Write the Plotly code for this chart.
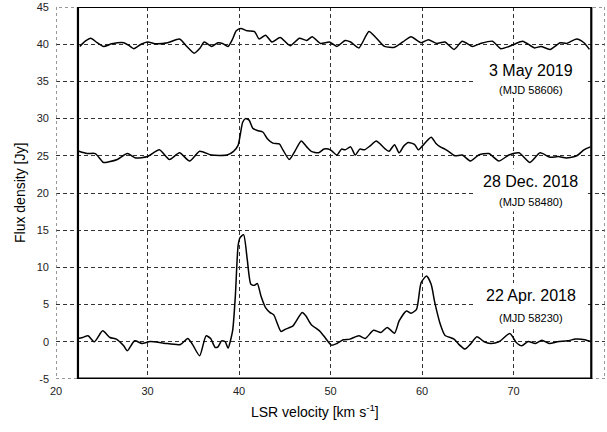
import plotly.graph_objects as go

# ---- data: 22 Apr. 2018 (MJD 58230)
v_apr = [22.3, 22.9, 23.5, 24.2, 25.1, 25.9, 26.6, 27.4, 27.8, 28.6, 29.4, 30.3, 31.8, 33.6, 34.4, 34.9,
         35.7, 36.4, 36.9, 37.4, 37.7, 38.1, 38.5, 38.8, 39.3, 39.6, 39.9, 40.1, 40.5, 40.9, 41.3, 41.7,
         42.0, 42.4, 42.9, 43.4, 43.8, 44.6, 45.1, 45.9, 46.9, 47.3, 47.9, 48.8, 49.4, 50.1, 50.7, 51.4,
         52.1, 53.1, 53.8, 54.7, 55.5, 56.2, 57.0, 57.5, 58.3, 58.8, 59.4, 59.9, 60.5, 61.0, 61.4, 62.0,
         62.5, 63.5, 64.0, 64.7, 65.3, 66.0, 66.8, 67.5, 68.4, 69.6, 70.3, 70.9, 71.6, 72.4, 73.1, 73.9,
         74.8, 75.9, 76.8, 77.8, 78.5]
f_apr = [0.44, 0.58, 0.8, 0.0, 1.47, 0.58, 0.36, -0.54, -1.2, 0.13, -0.22, 0.04, -0.18, -0.36, 0.44, -0.31,
         -1.88, 0.8, 0.44, -0.76, -0.67, 0.13, 0.0, -0.85, 1.47, 6.16, 12.9, 13.97, 14.4, 11.07, 7.72, 7.59,
         7.85, 6.16, 4.6, 3.93, 3.62, 1.38, 1.7, 2.14, 3.93, 3.5, 2.3, 1.47, 0.58, -0.45, -0.22, 0.27,
         0.36, 0.8, 0.44, 1.56, 1.25, 1.92, 1.16, 2.8, 4.15, 3.84, 4.37, 7.94, 8.84, 7.72, 5.26, 2.36,
         0.89, 0.36, -0.31, -0.98, -0.31, 0.67, 0.0, -0.22, 0.0, 1.11, -0.09, -0.54, 0.04, -0.22, 0.22, -0.22,
         0.0, 0.13, 0.36, 0.27, 0.0]

# ---- data: 28 Dec. 2018 (MJD 58480)
v_dec = [22.5, 23.4, 24.3, 25.2, 25.8, 26.7, 27.8, 28.7, 30.0, 31.3, 32.4, 33.5, 34.6, 35.7, 37.0, 38.7,
         39.4, 39.9, 40.4, 40.7, 41.1, 41.5, 42.0, 42.6, 43.1, 43.7, 44.4, 44.8, 45.5, 46.1, 46.8, 47.4,
         47.9, 48.7, 49.3, 50.0, 50.7, 51.2, 51.6, 52.2, 52.7, 53.2, 53.7, 54.3, 55.0, 55.5, 56.0, 56.4,
         57.0, 57.5, 58.0, 58.5, 59.2, 59.6, 60.1, 61.0, 61.5, 62.0, 62.5, 62.9, 63.6, 64.4, 65.3, 66.2,
         67.3, 68.4, 69.5, 70.6, 71.8, 72.9, 74.0, 74.9, 75.8, 76.9, 77.7, 78.4]
f_dec = [25.6, 25.3, 25.3, 24.1, 24.2, 24.5, 25.3, 24.7, 24.9, 25.8, 24.5, 25.4, 24.3, 25.6, 25.1, 25.1,
         25.6, 26.4, 29.5, 30.0, 29.8, 28.7, 28.4, 28.2, 27.3, 26.7, 26.6, 25.8, 24.5, 25.6, 27.0, 26.2,
         25.6, 25.4, 25.9, 25.8, 25.1, 25.9, 25.8, 26.2, 25.1, 25.9, 25.8, 26.3, 27.0, 26.5, 25.9, 25.6,
         26.5, 25.4, 26.3, 26.8, 26.5, 25.8, 26.4, 27.5, 26.7, 26.2, 25.9, 25.6, 25.0, 25.1, 24.3, 25.1,
         25.3, 24.3, 25.1, 25.4, 24.1, 25.4, 24.8, 24.9, 24.7, 25.0, 25.8, 26.2]

# ---- data: 3 May 2019 (MJD 58606)
v_may = [22.6, 23.2, 23.8, 24.5, 25.2, 26.1, 27.4, 28.0, 28.5, 29.3, 30.0, 30.95, 32.2, 33.5, 34.3, 35.1,
         35.75, 36.2, 37.0, 37.7, 38.2, 38.8, 39.3, 39.7, 40.2, 40.9, 41.7, 42.2, 42.9, 43.6, 44.5, 45.6,
         46.6, 47.4, 48.0, 48.9, 49.9, 50.7, 51.6, 52.2, 53.1, 54.2, 54.95, 55.9, 57.0, 57.9, 58.8, 59.9,
         60.7, 61.6, 62.5, 63.5, 64.4, 65.5, 66.4, 67.7, 68.6, 69.5, 70.1, 71.0, 72.3, 73.0, 74.0, 75.1,
         75.8, 76.9, 77.7, 78.3]
f_may = [39.7, 40.4, 40.8, 40.2, 39.7, 40.05, 40.2, 39.8, 39.4, 40.0, 40.3, 40.05, 40.2, 40.7, 39.7, 38.8,
         39.5, 40.3, 39.7, 40.2, 40.1, 39.7, 40.7, 41.8, 42.1, 41.8, 41.7, 40.7, 41.2, 40.3, 40.9, 39.8,
         40.8, 40.5, 41.0, 40.1, 40.3, 39.7, 40.5, 40.3, 39.5, 41.7, 40.9, 39.7, 39.6, 40.3, 41.0, 40.2,
         40.6, 40.1, 40.3, 39.3, 40.4, 39.7, 40.1, 40.4, 39.4, 39.7, 40.0, 40.4, 39.5, 39.7, 39.3, 40.2,
         40.1, 40.7, 40.2, 39.3]

x_ticks = [20, 30, 40, 50, 60, 70, 80]
y_ticks = [-5, 0, 5, 10, 15, 20, 25, 30, 35, 40, 45]

labels = [("3 May 2019", "(MJD 58606)"), ("28 Dec. 2018", "(MJD 58480)"), ("22 Apr. 2018", "(MJD 58230)")]
label_y = [36.5, 21.5, 6.2]
sub_y = [33.8, 18.8, 3.2]
box_y = [(32.9, 37.9), (17.5, 23.3), (1.7, 7.9)]

FONT = "Liberation Sans, Arial, sans-serif"

# plot area in window: x 56..605, y 7..379 (page body margin removed below)
PL, PR, PT, PB = 56, 605, 7, 379
W, H = 607, 432

fig = go.Figure()
for v, f in [(v_apr, f_apr), (v_dec, f_dec), (v_may, f_may)]:
    fig.add_trace(go.Scatter(x=v, y=f, mode="lines", line=dict(color="black", width=1.5, shape="spline", smoothing=0.6),
                             showlegend=False, hoverinfo="skip"))

shapes = []
for (y0, y1) in box_y:
    shapes.append(dict(type="rect", xref="x", yref="y", x0=65.9, x1=77.9, y0=y0, y1=y1,
                       fillcolor="white", line=dict(width=0), layer="between"))
shapes.append(dict(type="rect", xref="x", yref="y", x0=20, x1=80, y0=-5, y1=45,
                   line=dict(color="#777", width=1.5, dash="dot"), layer="above"))
shapes.append(dict(type="rect", xref="x", yref="y", x0=22.4, x1=78.5, y0=-5, y1=45,
                   line=dict(color="black", width=2.2), layer="above"))
shapes.append(dict(type="line", xref="x", yref="y", x0=22.4, x1=78.5, y0=-5, y1=-5,
                   line=dict(color="black", width=3), layer="above"))

annotations = []
for (big, small), ly, sy in zip(labels, label_y, sub_y):
    annotations.append(dict(x=71.9, y=ly, xref="x", yref="y", text=big, showarrow=False,
                            font=dict(family=FONT, size=16, color="black")))
    annotations.append(dict(x=71.9, y=sy, xref="x", yref="y", text=small, showarrow=False,
                            font=dict(family=FONT, size=11, color="black")))
annotations.append(dict(x=(315 - PL) / (PR - PL), y=-(411 - PB) / (PB - PT), xref="paper", yref="paper",
                        text="LSR velocity [km s<sup>-1</sup>]", showarrow=False, xanchor="center", yanchor="middle",
                        font=dict(family=FONT, size=14, color="black")))
annotations.append(dict(x=-(PL - 20) / (PR - PL), y=0.5, xref="paper", yref="paper",
                        text="Flux density [Jy]", showarrow=False, textangle=-90, xanchor="center", yanchor="middle",
                        font=dict(family=FONT, size=14, color="black")))

fig.update_layout(
    width=W, height=H,
    margin=dict(l=PL, r=W - PR, t=PT, b=H - PB, pad=0, autoexpand=False),
    paper_bgcolor="white", plot_bgcolor="white",
    shapes=shapes, annotations=annotations,
    font=dict(family=FONT, size=11, color="#222"),
    xaxis=dict(range=[20, 80], tickvals=x_ticks, ticktext=[str(t) for t in x_ticks],
               showgrid=True, gridcolor="#333", gridwidth=1, griddash="4px,3px",
               zeroline=False, showline=False, ticks="", ticklabelstandoff=4, automargin=False,
               tickfont=dict(family=FONT, size=11, color="#222")),
    yaxis=dict(range=[-5, 45], tickvals=y_ticks, ticktext=[str(t) for t in y_ticks],
               showgrid=True, gridcolor="#333", gridwidth=1, griddash="4px,3px",
               zeroline=False, showline=False, ticks="", ticklabelstandoff=6, automargin=False,
               tickfont=dict(family=FONT, size=11, color="#222")),
)

fig.write_html(
    "out.html",
    config={"displayModeBar": False, "staticPlot": True},
    post_script="document.body.style.margin='0';document.body.style.overflow='hidden';"
                "document.documentElement.style.overflow='hidden';",
)
